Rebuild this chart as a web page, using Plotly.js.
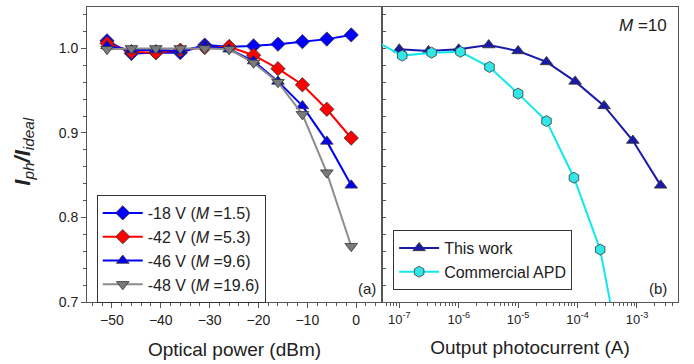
<!DOCTYPE html>
<html>
<head>
<meta charset="utf-8">
<script src="https://cdn.plot.ly/plotly-3.0.1.min.js"></script>
<style>html,body{margin:0;padding:0;background:#fff;}#chart{width:694px;height:364px;}</style>
</head>
<body>
<div id="chart"></div>
<script>
// Panel (a): optical power (dBm)
const powerDbm = [-51, -46, -41, -36, -31, -26, -21, -16, -11, -6, -1];
const v18 = [1.009, 0.994, 0.995, 0.995, 1.004, 1.002, 1.003, 1.005, 1.008, 1.011, 1.016];
const v42 = [1.006, 0.996, 0.995, 0.998, 1.001, 1.002, 0.992, 0.976, 0.957, 0.928, 0.894];
const v46 = [1.003, 0.998, 0.998, 0.997, 1.003, 0.999, 0.985, 0.961, 0.932, 0.890, 0.838];
const v48 = [0.999, 1.000, 1.000, 1.000, 1.000, 0.999, 0.983, 0.960, 0.922, 0.853, 0.766];
const namesA = ["-18 V (<i>M</i> =1.5)", "-42 V (<i>M</i> =5.3)", "-46 V (<i>M</i> =9.6)", "-48 V (<i>M</i> =19.6)"];

// Panel (b): output photocurrent (A)
const thisWorkI = [1.0e-7, 3.1e-7, 1.0e-6, 3.2e-6, 1.0e-5, 3.0e-5, 9.1e-5, 2.8e-4, 8.5e-4, 2.5e-3];
const thisWorkR = [0.999, 0.997, 0.999, 1.004, 0.997, 0.984, 0.961, 0.932, 0.891, 0.838];
const apdI = [3.5e-8, 1.12e-7, 3.5e-7, 1.07e-6, 3.3e-6, 1.0e-5, 3.0e-5, 8.7e-5, 2.4e-4, 7.5e-4];
const apdR = [1.011, 0.9915, 0.995, 0.996, 0.978, 0.9465, 0.914, 0.847, 0.762, 0.58];
const namesB = ["This work", "Commercial APD"];

const logTickVals = [1e-7, 1e-6, 1e-5, 1e-4, 1e-3];
const logTickText = ["10<sup>-7</sup>", "10<sup>-6</sup>", "10<sup>-5</sup>", "10<sup>-4</sup>", "10<sup>-3</sup>"];
const minorLog = [];
for (let e = -8; e <= -3; e++) for (let d = 2; d <= 9; d++) minorLog.push(d * Math.pow(10, e));

const FONT = "Liberation Sans, Arial, sans-serif";
const outline = {color: "#333", width: 0.8};

const traces = [
  {x: powerDbm, y: v18, name: namesA[0], mode: "lines+markers", xaxis: "x", yaxis: "y", legend: "legend",
   line: {color: "#0000ff", width: 2}, marker: {symbol: "diamond", size: 11, color: "#0000ff", line: outline}},
  {x: powerDbm, y: v42, name: namesA[1], mode: "lines+markers", xaxis: "x", yaxis: "y", legend: "legend",
   line: {color: "#ff0000", width: 2}, marker: {symbol: "diamond", size: 11, color: "#ff0000", line: outline}},
  {x: powerDbm, y: v46, name: namesA[2], mode: "lines+markers", xaxis: "x", yaxis: "y", legend: "legend",
   line: {color: "#0000f0", width: 2}, marker: {symbol: "triangle-up", size: 11, color: "#0000f0", line: outline}},
  {x: powerDbm, y: v48, name: namesA[3], mode: "lines+markers", xaxis: "x", yaxis: "y", legend: "legend",
   line: {color: "#8c8c8c", width: 2}, marker: {symbol: "triangle-down", size: 11, color: "#7a7a7a", line: outline}},
  {x: thisWorkI, y: thisWorkR, name: namesB[0], mode: "lines+markers", xaxis: "x2", yaxis: "y2", legend: "legend2",
   line: {color: "#1a1aa8", width: 2}, marker: {symbol: "triangle-up", size: 11, color: "#1a1aa8", line: outline}},
  {x: apdI, y: apdR, name: namesB[1], mode: "lines+markers", xaxis: "x2", yaxis: "y2", legend: "legend2",
   line: {color: "#10e8f0", width: 2}, marker: {symbol: "hexagon", size: 11, color: "#30e6e6", line: outline}}
];

const axisCommon = {showgrid: false, zeroline: false, showline: true, linecolor: "#555", linewidth: 1,
  tickcolor: "#555", tickfont: {family: FONT, size: 14, color: "#222"}};

const layout = {
  width: 694, height: 364,
  margin: {l: 87, r: 16, t: 7, b: 62},
  paper_bgcolor: "#fff", plot_bgcolor: "#fff",
  font: {family: FONT, color: "#222"},
  showlegend: true,
  xaxis: Object.assign({}, axisCommon, {
    domain: [0, 0.4992], range: [-55.1, 5.3], tick0: 0, dtick: 10, ticks: "outside", ticklen: 5,
    mirror: true, minor: {dtick: 2, ticks: "outside", ticklen: 3, tickcolor: "#555"},
    title: {text: "Optical power (dBm)", font: {family: FONT, size: 19, color: "#222"}, standoff: 15},
    automargin: false
  }),
  yaxis: Object.assign({}, axisCommon, {
    domain: [0, 1], range: [0.7, 1.049], dtick: 0.1, tick0: 0.7, tickformat: ".1f", ticks: "outside", ticklen: 5,
    mirror: true, minor: {dtick: 0.02, ticks: "outside", ticklen: 3, tickcolor: "#555"}, automargin: false
  }),
  xaxis2: Object.assign({}, axisCommon, {
    domain: [0.4992, 1], type: "log", range: [-7.29, -2.31], tickmode: "array", tickvals: logTickVals, ticktext: logTickText,
    ticks: "outside", ticklen: 5, mirror: true, tickfont: {family: FONT, size: 13, color: "#222"},
    minor: {tickmode: "array", tickvals: minorLog, ticks: "outside", ticklen: 3, tickcolor: "#555"},
    title: {text: "Output photocurrent (A)", font: {family: FONT, size: 19, color: "#222"}, standoff: 15},
    automargin: false
  }),
  yaxis2: Object.assign({}, axisCommon, {
    domain: [0, 1], anchor: "x2", matches: "y", range: [0.7, 1.049], dtick: 0.1, tick0: 0.7,
    showticklabels: false, ticks: "inside", ticklen: 4, mirror: true,
    minor: {dtick: 0.02, ticks: "inside", ticklen: 4, tickcolor: "#555"}, automargin: false
  }),
  legend: {x: 0.0165, xanchor: "left", y: 0.3627, yanchor: "top", bordercolor: "#333", borderwidth: 1,
    bgcolor: "#fff", font: {family: FONT, size: 16, color: "#222"}, tracegroupgap: 0, itemwidth: 40},
  legend2: {x: 0.518, xanchor: "left", y: 0.244, yanchor: "top", bordercolor: "#333", borderwidth: 1,
    bgcolor: "#fff", font: {family: FONT, size: 16, color: "#222"}, tracegroupgap: 0, itemwidth: 40},
  annotations: [
    {text: "<i><b>I</b><sub>ph</sub><b>/I</b><sub>ideal</sub></i>", xref: "paper", yref: "paper",
     x: -0.108, y: 0.51, xanchor: "center", yanchor: "middle", textangle: -90, showarrow: false,
     font: {family: FONT, size: 22, color: "#222"}},
    {text: "<i>M</i> =10", xref: "paper", yref: "paper", x: 0.985, y: 0.975, xanchor: "right", yanchor: "top",
     showarrow: false, font: {family: FONT, size: 17, color: "#222"}},
    {text: "(a)", xref: "paper", yref: "paper", x: 0.4925, y: 0.01, xanchor: "right", yanchor: "bottom",
     showarrow: false, font: {family: FONT, size: 15, color: "#222"}},
    {text: "(b)", xref: "paper", yref: "paper", x: 0.985, y: 0.01, xanchor: "right", yanchor: "bottom",
     showarrow: false, font: {family: FONT, size: 15, color: "#222"}}
  ]
};

Plotly.newPlot("chart", traces, layout, {staticPlot: true, displayModeBar: false});
</script>
</body>
</html>
